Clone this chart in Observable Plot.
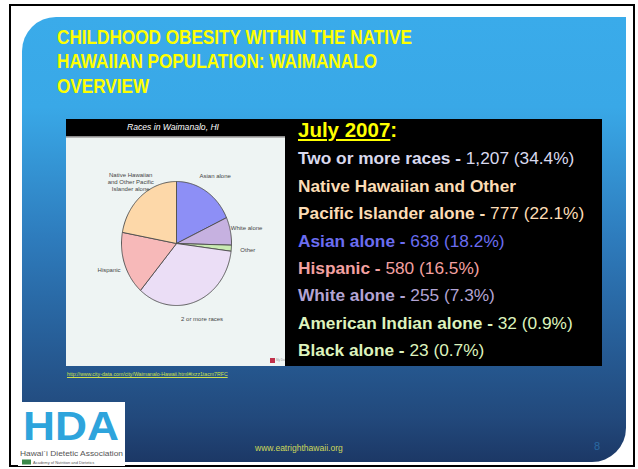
<!DOCTYPE html>
<html>
<head>
<meta charset="utf-8">
<script src="https://cdn.jsdelivr.net/npm/d3@7"></script>
<script src="https://cdn.jsdelivr.net/npm/@observablehq/plot@0.6"></script>
<style>
  html, body { margin: 0; padding: 0; background: #ffffff; }
  body { width: 638px; height: 469px; position: relative; overflow: hidden; font-family: "Liberation Sans", Arial, sans-serif; }
  .abs { position: absolute; }
  #frame { left: 9px; top: 4px; width: 622px; height: 459px; border: 2px solid #000; }
  #slide { left: 22px; top: 17px; width: 604px; height: 445px;
    border-radius: 34px 0 34px 0;
    background: linear-gradient(to bottom, #3aabea 0px, #39a8e7 90px, #2e7cbd 220px, #275f99 320px, #22497c 400px, #1c3866 445px); }
  #title { left: 57px; top: 24.6px; color: #ffff00; font-weight: bold; font-size: 19.5px; line-height: 24.5px;
    transform: scaleX(0.88); transform-origin: 0 0; white-space: nowrap; }
  #panel { left: 66px; top: 119px; width: 220px; height: 247px; background: #eef4f3; }
  #panelhead { left: 0; top: 0; width: 220px; height: 17px; background: #000; color: #fff; font-style: italic;
    font-size: 8.6px; line-height: 17px; text-align: center; text-indent: -6px; }
  #panelline { left: 0; top: 17px; width: 220px; height: 2px; background: linear-gradient(to bottom, #777, #ccc); }
  #pie { left: 0; top: 18px; }
  #box { left: 285px; top: 119px; width: 317px; height: 247px; background: #000; }
  #july { left: 13px; top: 1px; color: #ffff00; font-weight: bold; font-size: 20.5px; line-height: 20px; white-space: nowrap; }
  #july u { text-decoration: underline; text-decoration-thickness: 2px; text-underline-offset: 2px; }
  #list { left: 13px; top: 26.4px; font-size: 17.3px; line-height: 27.4px; white-space: pre; }
  #list b { font-weight: bold; }
  #url { left: 67px; top: 371px; font-size: 5.2px; color: #cfe04a; text-decoration: underline; white-space: nowrap; }
  #footer { left: 255px; top: 442px; font-size: 9.4px; color: #cdd85a; white-space: nowrap; transform: scaleX(0.91); transform-origin: 0 0; }
  #pagenum { left: 594px; top: 440px; font-size: 11px; color: #2a6aa3; }
  #logo { left: 18px; top: 402px; width: 107px; height: 64px; background: #fff; }
</style>
</head>
<body>
<div id="frame" class="abs"></div>
<div id="slide" class="abs"></div>
<div id="title" class="abs"></div>

<div id="panel" class="abs">
  <div id="panelhead" class="abs"></div>
  <div id="panelline" class="abs"></div>
  <div id="pie" class="abs"></div>
</div>

<div id="box" class="abs">
  <div id="july" class="abs"></div>
  <div id="list" class="abs"></div>
</div>

<div id="url" class="abs"></div>
<div id="footer" class="abs"></div>
<div id="pagenum" class="abs"></div>
<div id="logo" class="abs"></div>

<script>
// ---------- data ----------
const titleLines = ["CHILDHOOD OBESITY WITHIN THE NATIVE", "HAWAIIAN POPULATION: WAIMANALO", "OVERVIEW"];
const chartTitle = "Races in Waimanalo, HI";

// pie slices (clockwise from 12 o'clock)
const sliceNames = ["Asian alone", "White alone", "Other", "2 or more races", "Hispanic", "Native Hawaiian and Other Pacific Islander alone"];
const sliceLabels = ["Asian alone", "White alone", "Other", "2 or more races", "Hispanic", "Native Hawaiian\nand Other Pacific\nIslander alone"];
const sliceCounts = [638, 255, 55, 1207, 580, 777];
const sliceColors = ["#8d8ff6", "#c6b1e0", "#c9eab2", "#ebdef6", "#f7b9b9", "#fdd8a9"];

// text list
const listHeading = "July 2007";
const listNames = ["Two or more races", "Native Hawaiian and Other\nPacific Islander alone", "Asian alone", "Hispanic", "White alone", "American Indian alone", "Black alone"];
const listCounts = ["1,207", "777", "638", "580", "255", "32", "23"];
const listPercents = ["34.4%", "22.1%", "18.2%", "16.5%", "7.3%", "0.9%", "0.7%"];
const listColors = ["#d9d9ee", "#fcdcb5", "#6b6df0", "#f3a1a1", "#b3a4d4", "#ddf3bd", "#ddf3bd"];

const sourceUrl = "http://www.city-data.com/city/Waimanalo-Hawaii.html#ixzz1tacm7RFC";
const footerText = "www.eatrighthawaii.org";
const pageNumber = "8";

// ---------- text ----------
document.getElementById("title").innerHTML = titleLines.join("<br>");
document.getElementById("panelhead").textContent = chartTitle;
document.getElementById("july").innerHTML = "<u>" + listHeading + "</u>:";
document.getElementById("list").innerHTML = listNames.map((n, i) => {
  const parts = n.split("\n");
  const last = parts.pop();
  const pre = parts.map(p => `<b>${p}</b>\n`).join("");
  return `<span style="color:${listColors[i]}">${pre}<b>${last} - </b>${listCounts[i]} (${listPercents[i]})</span>`;
}).join("\n");
document.getElementById("url").textContent = sourceUrl;
document.getElementById("footer").textContent = footerText;
document.getElementById("pagenum").textContent = pageNumber;

// ---------- pie ----------
const slices = sliceNames.map((name, i) => ({name, label: sliceLabels[i], count: sliceCounts[i], color: sliceColors[i]}));
const arcs = d3.pie().sort(null).value(d => d.count)(slices);
const outline = [];
const labelRows = [];
for (const a of arcs) {
  outline.push({name: a.data.name, color: a.data.color, x: 0, y: 0});
  const n = Math.max(2, Math.ceil((a.endAngle - a.startAngle) / (Math.PI / 180)));
  for (let k = 0; k <= n; k++) {
    const t = a.startAngle + (a.endAngle - a.startAngle) * k / n;
    outline.push({name: a.data.name, color: a.data.color, x: Math.sin(t), y: Math.cos(t)});
  }
  outline.push({name: a.data.name, color: a.data.color, x: 0, y: 0});
  const mid = (a.startAngle + a.endAngle) / 2;
  labelRows.push({label: a.data.label, x: Math.sin(mid) * 1.3, y: Math.cos(mid) * 1.3});
}

const pie = Plot.plot({
  width: 220,
  height: 229,
  margin: 0,
  x: {domain: [-2, 2], axis: null},
  y: {domain: [-1.984, 1.71], axis: null},
  color: {type: "identity"},
  style: {background: "transparent", overflow: "visible"},
  marks: [
    Plot.line(outline, {x: "x", y: "y", z: "name", fill: "color", stroke: "#4d4d4d", strokeWidth: 0.9, strokeLinejoin: "round", curve: "linear"}),
    Plot.text(labelRows, {x: "x", y: "y", text: "label", fontSize: 6, fill: "#454545", lineHeight: 1.15, fontFamily: "Liberation Sans, Arial, sans-serif"})
  ]
});
document.getElementById("pie").appendChild(pie);

// small source badge in the panel corner
const badge = document.createElement("div");
badge.className = "abs";
badge.style.cssText = "left:204px;top:239px;width:16px;height:6px;font-size:3px;color:#999;white-space:nowrap;";
badge.innerHTML = '<span style="display:inline-block;width:5px;height:5px;background:#c0304a;vertical-align:middle;margin-right:1px"></span>My Data';
document.getElementById("panel").appendChild(badge);

// ---------- logo ----------
document.getElementById("logo").innerHTML = `
<svg width="107" height="64" xmlns="http://www.w3.org/2000/svg">
  <text x="53" y="38" text-anchor="middle" font-family="Liberation Sans, Arial" font-weight="bold" font-size="40" fill="#2ea4dc" textLength="96" lengthAdjust="spacingAndGlyphs">HDA</text>
  <text x="2" y="54" font-family="Liberation Sans, Arial" font-size="7" fill="#555" textLength="103" lengthAdjust="spacingAndGlyphs">Hawai\`i Dietetic Association</text>
  <rect x="4" y="57.5" width="9" height="5" fill="#3b8a4a"/>
  <text x="15" y="62" font-family="Liberation Sans, Arial" font-size="4" fill="#555">Academy of Nutrition and Dietetics</text>
</svg>`;
</script>
</body>
</html>
